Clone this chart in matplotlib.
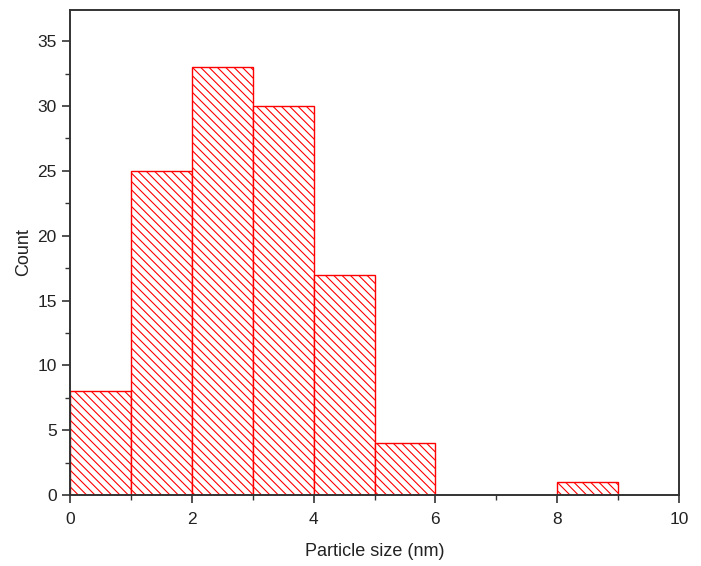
#! /usr/bin/env python3

import matplotlib
matplotlib.use('Agg')
import matplotlib.pyplot as plt
import numpy as np

plt.rcParams.update({'font.size': 12, 'font.family': ['Liberation Sans', 'DejaVu Sans']})
plt.rcParams['hatch.linewidth'] = 0.8
plt.rcParams['hatch.color'] = 'red'

# histogram data (bin edges in nm, counts)
binLeft   = [0, 1, 2, 3, 4, 5, 6, 7, 8]
counts    = [8, 25, 33, 30, 17, 4, 0, 0, 1]
binWidth  = 1.0

fig = plt.figure(figsize=(7.01, 5.66), dpi=100, facecolor='w')
ax = fig.add_axes([0.0999, 0.1254, 0.8687, 0.8569])

for x, c in zip(binLeft, counts):
    if c == 0:
        continue
    ax.bar(x, c, width=binWidth, align='edge', facecolor='white',
           edgecolor='red', linewidth=1.0, hatch='\\\\\\\\')

ax.set_xlim(0, 10)
ax.set_ylim(0, 37.4)
ax.set_xticks(np.arange(0, 11, 2))
ax.set_xticks(np.arange(1, 10, 2), minor=True)
ax.set_yticks(np.arange(0, 36, 5))
ax.set_yticks(np.arange(2.5, 37, 5), minor=True)

for s in ax.spines.values():
    s.set_color('#333333')
    s.set_linewidth(1.4)

ax.tick_params(which='major', direction='out', length=6, width=1.2, color='#333333',
               labelsize=12.5, labelcolor='#222222', top=False, right=False)
ax.tick_params(axis='x', which='major', pad=6)
ax.tick_params(which='minor', direction='out', length=3.5, width=1.0, color='#333333',
               top=False, right=False)

ax.set_xlabel('Particle size (nm)', fontsize=13, color='#222222', labelpad=12)
ax.set_ylabel('Count', fontsize=13, color='#222222', labelpad=4)

plt.savefig('out.png', dpi=100)
